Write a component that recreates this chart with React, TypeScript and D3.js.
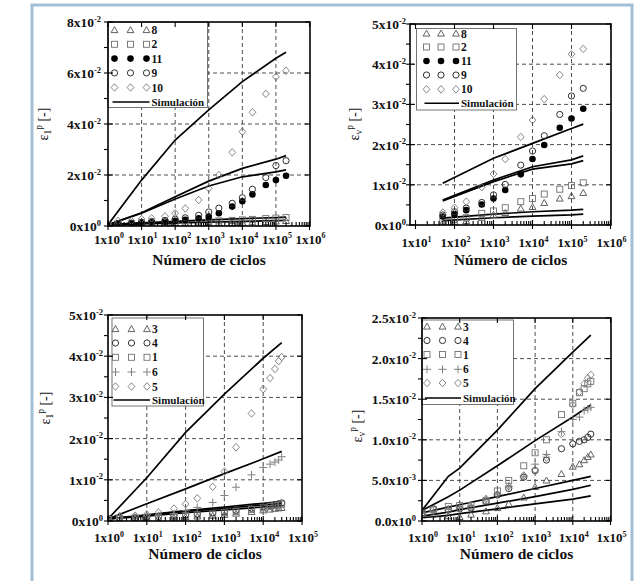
import React from "react";
import * as d3 from "d3";

const W = 636;
const H = 581;

// ---------- Panel A (top-left): ε1p vs cycles ----------
const cyclesA = [1, 2, 5, 10, 20, 50, 100, 200, 500, 1000, 2000, 5000, 1e4, 2e4, 5e4, 1e5, 2e5];
const a8 = [0.02, 0.03, 0.04, 0.05, 0.05, 0.06, 0.07, 0.08, 0.09, 0.1, 0.11, 0.12, 0.13, 0.15, 0.16, 0.18, 0.2];
const a2 = [0.03, 0.05, 0.07, 0.08, 0.1, 0.11, 0.13, 0.14, 0.16, 0.18, 0.2, 0.22, 0.24, 0.26, 0.29, 0.31, 0.33];
const a11 = [0.05, 0.1, 0.1, 0.12, 0.15, 0.17, 0.2, 0.24, 0.3, 0.37, 0.5, 0.76, 0.97, 1.24, 1.61, 1.8, 1.97];
const a9 = [0.05, 0.1, 0.12, 0.15, 0.18, 0.22, 0.27, 0.32, 0.42, 0.55, 0.7, 0.89, 1.11, 1.44, 1.9, 2.37, 2.56];
const a10 = [0.08, 0.2, 0.2, 0.27, 0.3, 0.38, 0.5, 0.69, 1.02, 1.48, 2.0, 2.89, 3.7, 4.46, 5.18, 5.85, 6.09];
const simCyclesA = [1, 10, 100, 1000, 1e4, 1e5, 2e5];
const simA1 = [0.05, 1.8, 3.37, 4.55, 5.66, 6.58, 6.81];
const simA2 = [0.05, 0.52, 1.15, 1.76, 2.26, 2.62, 2.76];
const simA3 = [0.05, 0.5, 1.06, 1.57, 1.93, 2.12, 2.2];
const simA4 = [0.05, 0.12, 0.18, 0.24, 0.29, 0.33, 0.35];
const simA5 = [0.03, 0.08, 0.12, 0.15, 0.18, 0.21, 0.22];
const xTicksA = ["1x10^0", "1x10^1", "1x10^2", "1x10^3", "1x10^4", "1x10^5", "1x10^6"];
const yTickValsA = [0, 2, 4, 6, 8];
const yTicksA = ["0x10^0", "2x10^-2", "4x10^-2", "6x10^-2", "8x10^-2"];

// ---------- Panel B (top-right): εvp vs cycles ----------
const cyclesB = [50, 100, 200, 500, 1000, 2000, 5000, 1e4, 2e4, 5e4, 1e5, 2e5];
const b8 = [0.06, 0.08, 0.1, 0.18, 0.25, 0.3, 0.41, 0.45, 0.55, 0.66, 0.72, 0.8];
const b2 = [0.1, 0.14, 0.18, 0.29, 0.35, 0.43, 0.58, 0.66, 0.77, 0.89, 0.98, 1.05];
const b11 = [0.21, 0.27, 0.37, 0.51, 0.66, 0.87, 1.26, 1.64, 1.99, 2.42, 2.65, 2.89];
const b9 = [0.25, 0.33, 0.42, 0.56, 0.75, 1.01, 1.49, 1.84, 2.22, 2.75, 3.21, 3.4];
const b10 = [0.31, 0.43, 0.58, 0.94, 1.27, 1.64, 2.19, 2.61, 3.13, 3.73, 4.25, 4.38];
const simCyclesB = [50, 1000, 1e4, 1e5, 2e5];
const simB1 = [1.04, 1.66, 2.03, 2.4, 2.51];
const simB2 = [0.62, 1.12, 1.45, 1.62, 1.72];
const simB3 = [0.6, 1.08, 1.39, 1.52, 1.6];
const simB4 = [0.17, 0.27, 0.33, 0.37, 0.39];
const simB5 = [0.11, 0.18, 0.22, 0.25, 0.27];
const xTicksB = ["1x10^1", "1x10^2", "1x10^3", "1x10^4", "1x10^5", "1x10^6"];
const yTickValsB = [0, 1, 2, 3, 4, 5];
const yTicksB = ["0x10^0", "1x10^-2", "2x10^-2", "3x10^-2", "4x10^-2", "5x10^-2"];

// ---------- Panel C (bottom-left): ε1p vs cycles ----------
const cyclesC = [1, 2, 5, 10, 20, 50, 100, 200, 500, 1000, 2000, 5000, 1e4, 1.5e4, 2e4, 2.5e4, 3e4];
const c3 = [0.03, 0.04, 0.05, 0.06, 0.07, 0.08, 0.1, 0.11, 0.13, 0.15, 0.18, 0.22, 0.26, 0.28, 0.3, 0.31, 0.32];
const c4 = [0.05, 0.07, 0.08, 0.1, 0.11, 0.13, 0.15, 0.17, 0.2, 0.22, 0.26, 0.31, 0.35, 0.38, 0.4, 0.42, 0.44];
const c1 = [0.04, 0.06, 0.07, 0.08, 0.09, 0.11, 0.13, 0.15, 0.17, 0.2, 0.23, 0.28, 0.32, 0.35, 0.37, 0.39, 0.41];
const c6 = [0.05, 0.07, 0.09, 0.1, 0.13, 0.18, 0.25, 0.33, 0.45, 0.62, 0.82, 1.12, 1.3, 1.38, 1.43, 1.48, 1.56];
const c5 = [0.08, 0.12, 0.13, 0.16, 0.21, 0.3, 0.41, 0.55, 0.83, 1.2, 1.79, 2.61, 3.2, 3.47, 3.69, 3.88, 3.98];
const simCyclesC = [1, 10, 100, 1000, 1e4, 3e4];
const simC1 = [0.05, 1.05, 2.15, 3.08, 3.95, 4.33];
const simC2 = [0.05, 0.42, 0.78, 1.15, 1.51, 1.69];
const simC3 = [0.05, 0.15, 0.25, 0.34, 0.43, 0.47];
const simC4 = [0.05, 0.14, 0.23, 0.31, 0.39, 0.43];
const simC5 = [0.05, 0.12, 0.2, 0.27, 0.34, 0.38];
const xTicksC = ["1x10^0", "1x10^1", "1x10^2", "1x10^3", "1x10^4", "1x10^5"];
const yTickValsC = [0, 1, 2, 3, 4, 5];
const yTicksC = ["0x10^0", "1x10^-2", "2x10^-2", "3x10^-2", "4x10^-2", "5x10^-2"];

// ---------- Panel D (bottom-right): εvp vs cycles ----------
const cyclesD = [1, 2, 5, 10, 20, 50, 100, 200, 500, 1000, 2000, 5000, 1e4, 1.5e4, 2e4, 2.5e4, 3e4];
const d3v = [0.1, 0.08, 0.06, 0.05, 0.08, 0.12, 0.16, 0.21, 0.29, 0.42, 0.5, 0.58, 0.67, 0.7, 0.75, 0.79, 0.82];
const d4v = [0.1, 0.15, 0.14, 0.15, 0.16, 0.24, 0.32, 0.4, 0.54, 0.62, 0.75, 0.89, 0.95, 0.98, 1.0, 1.03, 1.07];
const d1v = [0.1, 0.14, 0.18, 0.19, 0.19, 0.25, 0.37, 0.5, 0.68, 0.84, 1.0, 1.31, 1.45, 1.58, 1.63, 1.69, 1.72];
const d6v = [0.1, 0.12, 0.15, 0.17, 0.18, 0.27, 0.33, 0.42, 0.55, 0.7, 0.82, 1.1, 1.25, 1.28, 1.36, 1.38, 1.4];
const d5v = [0.08, 0.14, 0.13, 0.15, 0.17, 0.27, 0.33, 0.43, 0.56, 0.63, 0.78, 1.07, 1.43, 1.59, 1.69, 1.76, 1.8];
const simCyclesD = [1, 5, 10, 100, 1000, 1e4, 3e4];
const simD1 = [0.13, 0.55, 0.65, 1.12, 1.63, 2.08, 2.29];
const simD2 = [0.13, 0.3, 0.38, 0.68, 0.99, 1.28, 1.43];
const simD3 = [0.1, 0.17, 0.2, 0.3, 0.4, 0.5, 0.55];
const simD4 = [0.06, 0.11, 0.14, 0.22, 0.3, 0.39, 0.44];
const simD5 = [0.04, 0.07, 0.09, 0.15, 0.21, 0.27, 0.31];
const xTicksD = ["1x10^0", "1x10^1", "1x10^2", "1x10^3", "1x10^4", "1x10^5"];
const yTickValsD = [0, 0.5, 1, 1.5, 2, 2.5];
const yTicksD = ["0.0x10^0", "5.0x10^-3", "1.0x10^-2", "1.5x10^-2", "2.0x10^-2", "2.5x10^-2"];

const xTitle = "Número de ciclos";
const simLabel = "Simulación";

const FONT = "'Liberation Serif', 'Times New Roman', serif";

type Mk = "tri" | "sq" | "dot" | "circ" | "dia" | "plus";

const markerColor: Record<Mk, string> = {
  tri: "#505050",
  sq: "#707070",
  dot: "#000",
  circ: "#303030",
  dia: "#7a7a7a",
  plus: "#808080",
};

function Marker({ t, x, y }: { t: Mk; x: number; y: number }) {
  const c = markerColor[t];
  switch (t) {
    case "tri":
      return <path d={`M${x},${y - 3.4}L${x + 3.4},${y + 2.6}L${x - 3.4},${y + 2.6}Z`} fill="none" stroke={c} strokeWidth={0.9} />;
    case "sq":
      return <rect x={x - 3} y={y - 3} width={6} height={6} fill="none" stroke={c} strokeWidth={0.9} />;
    case "dot":
      return <circle cx={x} cy={y} r={3.3} fill={c} />;
    case "circ":
      return <circle cx={x} cy={y} r={3.1} fill="none" stroke={c} strokeWidth={1} />;
    case "dia":
      return <path d={`M${x},${y - 3.8}L${x + 3.4},${y}L${x},${y + 3.8}L${x - 3.4},${y}Z`} fill="none" stroke={c} strokeWidth={0.9} />;
    case "plus":
      return <path d={`M${x - 4},${y}H${x + 4}M${x},${y - 4}V${y + 4}`} fill="none" stroke={c} strokeWidth={1} />;
  }
  return null;
}

function SupText({ s, x, y, anchor, size, supSize }: { s: string; x: number; y: number; anchor: string; size: number; supSize: number }) {
  const [base, sup] = s.split("^");
  return (
    <text x={x} y={y} textAnchor={anchor as any} fontFamily={FONT} fontWeight="bold" fontSize={size} fill="#111">
      <tspan>{base}</tspan>
      <tspan dy={-5.5} fontSize={supSize}>{sup}</tspan>
    </text>
  );
}

interface Series { label: string; t: Mk; values: number[] }
interface PanelCfg {
  box: { l: number; r: number; t: number; b: number };
  xDom: [number, number];
  xRange: [number, number];
  yMax: number;
  majorExp: number[];
  xTickLabels: string[];
  gridExp: number[];
  yTickVals: number[];
  yTickLabels: string[];
  yMinorStep: number;
  yGrid: number[];
  cycles: number[];
  series: Series[];
  simCycles: number[];
  sims: number[][];
  legend: { l: number; t: number; r: number; b: number; rows: number[]; mx: number[]; lx: number };
  xLabelY: number;
  titleY: number;
  yLabelEnd: number;
  ylab: { x: number; y: number; sub: string };
}

const panels: PanelCfg[] = [
  {
    box: { l: 108, r: 310, t: 22, b: 226 },
    xDom: [1, 1e6], xRange: [108, 309.5], yMax: 8,
    majorExp: [0, 1, 2, 3, 4, 5, 6], xTickLabels: xTicksA, gridExp: [1, 2, 3, 4, 5],
    yTickVals: yTickValsA, yTickLabels: yTicksA, yMinorStep: 1, yGrid: [2, 4, 6],
    cycles: cyclesA,
    series: [
      { label: "8", t: "tri", values: a8 },
      { label: "2", t: "sq", values: a2 },
      { label: "11", t: "dot", values: a11 },
      { label: "9", t: "circ", values: a9 },
      { label: "10", t: "dia", values: a10 },
    ],
    simCycles: simCyclesA, sims: [simA1, simA2, simA3, simA4, simA5],
    legend: { l: 108, t: 22, r: 207.5, b: 107.5, rows: [30, 44.3, 58.6, 72.9, 87.5, 102], mx: [114.5, 130.5, 146.5], lx: 151.5 },
    xLabelY: 243.5, titleY: 265, yLabelEnd: 101, ylab: { x: 48, y: 124, sub: "1" },
  },
  {
    box: { l: 410, r: 611, t: 24, b: 225 },
    xDom: [10, 1e6], xRange: [415.5, 610.5], yMax: 5,
    majorExp: [1, 2, 3, 4, 5, 6], xTickLabels: xTicksB, gridExp: [2, 3, 4, 5],
    yTickVals: yTickValsB, yTickLabels: yTicksB, yMinorStep: 0.5, yGrid: [1, 2, 3, 4],
    cycles: cyclesB,
    series: [
      { label: "8", t: "tri", values: b8 },
      { label: "2", t: "sq", values: b2 },
      { label: "11", t: "dot", values: b11 },
      { label: "9", t: "circ", values: b9 },
      { label: "10", t: "dia", values: b10 },
    ],
    simCycles: simCyclesB, sims: [simB1, simB2, simB3, simB4, simB5],
    legend: { l: 416.5, t: 28.5, r: 516.5, b: 110, rows: [33.5, 47, 61, 75, 89.3, 103.3], mx: [426.5, 441, 456], lx: 461 },
    xLabelY: 247, titleY: 264.5, yLabelEnd: 406, ylab: { x: 359, y: 124, sub: "v" },
  },
  {
    box: { l: 108, r: 302, t: 315, b: 521 },
    xDom: [1, 1e5], xRange: [108, 302], yMax: 5,
    majorExp: [0, 1, 2, 3, 4, 5], xTickLabels: xTicksC, gridExp: [1, 2, 3, 4],
    yTickVals: yTickValsC, yTickLabels: yTicksC, yMinorStep: 0.5, yGrid: [1, 2, 3, 4],
    cycles: cyclesC,
    series: [
      { label: "3", t: "tri", values: c3 },
      { label: "4", t: "circ", values: c4 },
      { label: "1", t: "sq", values: c1 },
      { label: "6", t: "plus", values: c6 },
      { label: "5", t: "dia", values: c5 },
    ],
    simCycles: simCyclesC, sims: [simC1, simC2, simC3, simC4, simC5],
    legend: { l: 112, t: 318, r: 203.5, b: 406, rows: [329, 343, 357.3, 372, 386.5, 400], mx: [115.5, 131.5, 147], lx: 152 },
    xLabelY: 542, titleY: 559, yLabelEnd: 103, ylab: { x: 50, y: 408, sub: "1" },
  },
  {
    box: { l: 422, r: 611, t: 318, b: 521 },
    xDom: [1, 1e5], xRange: [422, 610.5], yMax: 2.5,
    majorExp: [0, 1, 2, 3, 4, 5], xTickLabels: xTicksD, gridExp: [1, 2, 3, 4],
    yTickVals: yTickValsD, yTickLabels: yTicksD, yMinorStep: 0.25, yGrid: [0.5, 1, 1.5, 2],
    cycles: cyclesD,
    series: [
      { label: "3", t: "tri", values: d3v },
      { label: "4", t: "circ", values: d4v },
      { label: "1", t: "sq", values: d1v },
      { label: "6", t: "plus", values: d6v },
      { label: "5", t: "dia", values: d5v },
    ],
    simCycles: simCyclesD, sims: [simD1, simD2, simD3, simD4, simD5],
    legend: { l: 422, t: 320, r: 513.5, b: 404.5, rows: [326.5, 340.5, 354.5, 369.3, 383, 398], mx: [427, 442.5, 458], lx: 463 },
    xLabelY: 542, titleY: 559, yLabelEnd: 416, ylab: { x: 362, y: 426, sub: "v" },
  },
];

function Panel({ p, idx }: { p: PanelCfg; idx: number }) {
  const x = d3.scaleLog().domain(p.xDom).range(p.xRange);
  const y = d3.scaleLinear().domain([0, p.yMax]).range([p.box.b, p.box.t]);
  const { l, r, t, b } = p.box;
  const line = d3.line<[number, number]>().x((d) => x(d[0])).y((d) => y(d[1]));

  const minors: number[] = [];
  for (let e = p.majorExp[0]; e < p.majorExp[p.majorExp.length - 1]; e++) {
    for (let k = 2; k <= 9; k++) minors.push(k * Math.pow(10, e));
  }
  const yMinors: number[] = d3.range(0, p.yMax + 1e-9, p.yMinorStep).filter((v) => !p.yTickVals.some((tv) => Math.abs(tv - v) < 1e-9));
  const clipId = `clip${idx}`;
  const L = p.legend;

  return (
    <g>
      <defs>
        <clipPath id={clipId}>
          <rect x={l} y={t} width={r - l} height={b - t} />
        </clipPath>
      </defs>
      {/* grid */}
      <g stroke="#3a3a3a" strokeWidth={0.9} strokeDasharray="4,3">
        {p.gridExp.map((e) => (
          <line key={"gx" + e} x1={x(Math.pow(10, e))} x2={x(Math.pow(10, e))} y1={t} y2={b} />
        ))}
        {p.yGrid.map((v) => (
          <line key={"gy" + v} x1={l} x2={r} y1={y(v)} y2={y(v)} />
        ))}
      </g>
      {/* legend box */}
      <rect x={L.l} y={L.t} width={L.r - L.l} height={L.b - L.t} fill="#fff" stroke="#666" strokeWidth={0.9} />
      {p.series.map((s, i) => (
        <g key={"lg" + i}>
          {L.mx.map((mx, j) => (
            <Marker key={j} t={s.t} x={mx} y={L.rows[i]} />
          ))}
          <text x={L.lx} y={L.rows[i] + 4} fontFamily={FONT} fontWeight="bold" fontSize={11.5} fill="#111">
            {s.label}
          </text>
        </g>
      ))}
      <line x1={L.mx[0] - 2} x2={L.mx[2] + 3} y1={L.rows[5]} y2={L.rows[5]} stroke="#000" strokeWidth={1.6} />
      <text x={L.lx} y={L.rows[5] + 3.8} fontFamily={FONT} fontWeight="bold" fontSize={11} fill="#111">
        {simLabel}
      </text>
      {/* data */}
      <g clipPath={`url(#${clipId})`}>
        {p.sims.map((s, i) => (
          <path key={"sim" + i} d={line(p.simCycles.map((n, k) => [n, s[k]] as [number, number])) || ""} fill="none" stroke="#000" strokeWidth={1.7} />
        ))}
        {p.series.map((s, i) => (
          <g key={"s" + i}>
            {p.cycles.map((n, k) => (
              <Marker key={k} t={s.t} x={x(n)} y={y(s.values[k])} />
            ))}
          </g>
        ))}
      </g>
      {/* frame */}
      <rect x={l} y={t} width={r - l} height={b - t} fill="none" stroke="#000" strokeWidth={1.6} />
      {/* x ticks */}
      <g stroke="#000" strokeWidth={1.1}>
        {p.majorExp.map((e) => (
          <g key={"mx" + e}>
            <line x1={x(Math.pow(10, e))} x2={x(Math.pow(10, e))} y1={b - 5} y2={b + 4} />
            <line x1={x(Math.pow(10, e))} x2={x(Math.pow(10, e))} y1={t} y2={t + 5} />
          </g>
        ))}
        {minors.map((m, i) => (
          <line key={"mn" + i} x1={x(m)} x2={x(m)} y1={b - 4} y2={b} />
        ))}
        {p.yTickVals.map((v) => (
          <g key={"yt" + v}>
            <line x1={l - 4} x2={l + 5} y1={y(v)} y2={y(v)} />
            <line x1={r - 5} x2={r} y1={y(v)} y2={y(v)} />
          </g>
        ))}
        {yMinors.map((v) => (
          <line key={"ym" + v} x1={l - 4} x2={l} y1={y(v)} y2={y(v)} />
        ))}
      </g>
      {/* tick labels */}
      {p.majorExp.map((e, i) => (
        <SupText key={"xl" + e} s={p.xTickLabels[i]} x={x(Math.pow(10, e)) + 1} y={p.xLabelY} anchor="middle" size={13} supSize={8} />
      ))}
      {p.yTickVals.map((v, i) => (
        <SupText key={"yl" + v} s={p.yTickLabels[i]} x={p.yLabelEnd} y={y(v) + 5} anchor="end" size={13.5} supSize={8.5} />
      ))}
      {/* axis titles */}
      <text x={(l + r) / 2} y={p.titleY} textAnchor="middle" fontFamily={FONT} fontWeight="bold" fontSize={15.5} fill="#111">
        {xTitle}
      </text>
      <text transform={`translate(${p.ylab.x},${p.ylab.y}) rotate(-90)`} textAnchor="middle" fontFamily={FONT} fontSize={14} fill="#111">
        <tspan>ε</tspan>
        <tspan dy={3} fontSize={9.5}>{p.ylab.sub}</tspan>
        <tspan dy={-9} fontSize={9.5}>p</tspan>
        <tspan dy={6}> [-]</tspan>
      </text>
    </g>
  );
}

export default function App() {
  return (
    <svg width={W} height={H} viewBox={`0 0 ${W} ${H}`} style={{ position: "absolute", left: 0, top: 0, background: "#fff" }}>
      <rect x={0} y={0} width={W} height={H} fill="#fff" />
      <path d={`M32,${H + 5}V5H632V${H + 5}`} fill="none" stroke="#a3bfd6" strokeWidth={3} />
      {panels.map((p, i) => (
        <Panel key={i} p={p} idx={i} />
      ))}
    </svg>
  );
}
